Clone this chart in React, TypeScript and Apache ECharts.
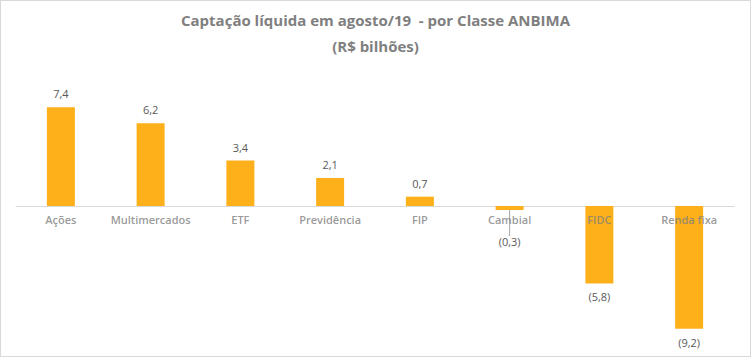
import React, { useEffect, useRef } from "react";
import * as echarts from "echarts";

const categories = ["Ações", "Multimercados", "ETF", "Previdência", "FIP", "Cambial", "FIDC", "Renda fixa"];
const values = [7.4, 6.2, 3.4, 2.1, 0.7, -0.3, -5.8, -9.2];
const titleLines = ["Captação líquida em agosto/19  - por Classe ANBIMA", "(R$ bilhões)"];

const fmt = (v: number) => {
  const s = Math.abs(v).toFixed(1).replace(".", ",");
  return v < 0 ? `(${s})` : s;
};

export default function App() {
  const ref = useRef<HTMLDivElement>(null);
  useEffect(() => {
    const chart = echarts.init(ref.current!, null, { renderer: "svg" });
    chart.setOption({
      animation: false,
      backgroundColor: "#ffffff",
      title: {
        text: titleLines.join("\n"),
        left: "center",
        top: 1,
        textStyle: {
          fontFamily: "Open Sans",
          fontSize: 15,
          fontWeight: "bold",
          color: "#7f7f7f",
          lineHeight: 26,
        },
      },
      grid: { left: 15, right: 16, top: 71.5, bottom: 16.5, containLabel: false },
      xAxis: {
        type: "category",
        data: categories,
        axisLine: { onZero: true, lineStyle: { color: "#d9d9d9", width: 1 } },
        axisTick: { show: false },
        axisLabel: { show: false },
      },
      yAxis: {
        type: "value",
        min: -10,
        max: 10,
        show: false,
        splitLine: { show: false },
      },
      series: [
        {
          type: "bar",
          data: values.map((v, i) => ({
            value: v,
            label: { position: v >= 0 ? "top" : "bottom" },
            labelLine: { show: i === 5 },
          })),
          barWidth: 28,
          itemStyle: { color: "#FDB01A" },
          label: {
            show: true,
            distance: 8,
            formatter: (p: any) => fmt(p.value),
            fontFamily: "Open Sans",
            fontSize: 11,
            color: "#595959",
          },
          labelLayout: (p: any) => (p.dataIndex === 5 ? { dy: 18 } : {}),
          labelLine: { show: false, lineStyle: { color: "#a6a6a6", width: 1 }, length2: 0 },
          z: 2,
        },
        {
          type: "scatter",
          data: categories.map((c, i) => [i, 0]),
          symbolSize: 0,
          silent: true,
          z: 5,
          label: {
            show: true,
            position: "bottom",
            distance: 8,
            formatter: (p: any) => categories[p.dataIndex],
            fontFamily: "Open Sans",
            fontSize: 11,
            fontWeight: 600,
            color: "#808080",
          },
        },
      ],
    });
    return () => chart.dispose();
  }, []);
  return (
    <div
      ref={ref}
      style={{
        width: 751,
        height: 357,
        position: "absolute",
        left: 0,
        top: 0,
        boxSizing: "border-box",
        border: "1px solid #d9d9d9",
      }}
    />
  );
}
